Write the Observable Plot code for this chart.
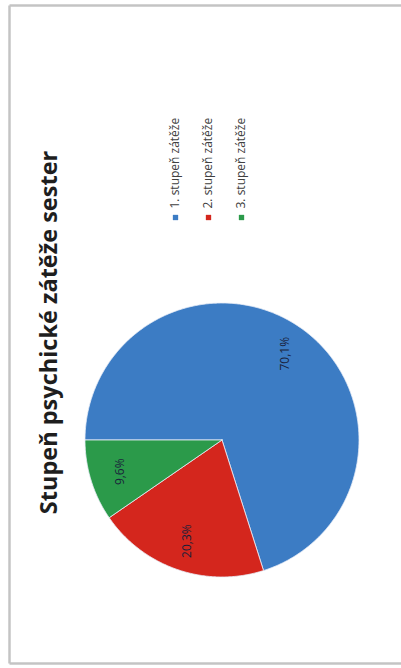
<!DOCTYPE html>
<html>
<head>
<meta charset="utf-8">
<script src="https://cdn.jsdelivr.net/npm/d3@7"></script>
<script src="https://cdn.jsdelivr.net/npm/@observablehq/plot@0.6"></script>
<style>
  html, body { margin: 0; padding: 0; background: #ffffff; }
  #chart svg { display: block; }
</style>
</head>
<body>
<div id="chart"></div>
<script>
// ---- data ----
const title = "Stupeň psychické zátěže sester";
const categories = ["1. stupeň zátěže", "2. stupeň zátěže", "3. stupeň zátěže"];
const shares = [70.1, 20.3, 9.6];
const shareLabels = ["70,1%", "20,3%", "9,6%"];
const colors = ["#3c7cc4", "#d4261d", "#2b9a4a"];

// ---- layout (page is rotated 90° counter-clockwise) ----
const W = 401, H = 668;
const cx = 221.5, cy = 439.5, r = 137;

const arcs = d3.pie().sort(null)
  .startAngle(-Math.PI / 2).endAngle(3 * Math.PI / 2)(shares);

const pt = (a, k) => ({x: cx + k * Math.sin(a), y: cy - k * Math.cos(a)});

const slices = [];
arcs.forEach((arc, i) => {
  const cat = categories[i];
  slices.push({cat, ...pt(0, 0)});
  const n = Math.max(2, Math.ceil((arc.endAngle - arc.startAngle) / 0.01));
  for (let j = 0; j <= n; j++) {
    const a = arc.startAngle + (arc.endAngle - arc.startAngle) * j / n;
    slices.push({cat, ...pt(a, r)});
  }
  slices.push({cat, ...pt(0, 0)});
});

const labelPts = arcs.map((arc, i) => ({
  label: shareLabels[i],
  ...pt((arc.startAngle + arc.endAngle) / 2, r * 0.78)
}));

const legendItems = categories.map((cat, i) => ({cat, x: 175 + i * 33, y: 217}));

const frameLines = [
  {x1: 9, y1: 5, x2: 9, y2: 663},
  {x1: 9, y1: 5, x2: 401, y2: 5},
  {x1: 9, y1: 663, x2: 401, y2: 663}
];

const chart = Plot.plot({
  width: W,
  height: H,
  margin: 0,
  style: {background: "#ffffff", fontFamily: "'Open Sans', sans-serif"},
  x: {type: "linear", domain: [0, W], range: [0, W], axis: null},
  y: {type: "linear", domain: [0, H], range: [0, H], axis: null},
  color: {type: "ordinal", domain: categories, range: colors},
  marks: [
    Plot.link(frameLines, {x1: "x1", y1: "y1", x2: "x2", y2: "y2", stroke: "#c4c4c4", strokeWidth: 2.5}),
    Plot.text([title], {
      frameAnchor: "top-left", dx: 40, dy: 332, text: d => d, rotate: -90,
      fontSize: 23.5, fontWeight: "bold", fill: "#1e1e1e", textAnchor: "middle"
    }),
    Plot.line(slices, {x: "x", y: "y", z: "cat", fill: "cat", stroke: "#e8eef8", strokeWidth: 1, strokeOpacity: 0.8, curve: "linear"}),
    Plot.text(labelPts, {x: "x", y: "y", text: "label", rotate: -90, fontSize: 12, fill: "#1a1f3a", textAnchor: "middle"}),
    Plot.dot(legendItems, {x: "x", y: "y", symbol: "square", r: 3, fill: "cat", stroke: "none"}),
    Plot.text(legendItems, {x: "x", y: d => d.y - 9, text: "cat", rotate: -90, textAnchor: "start", fontSize: 12, fill: "#404040"})
  ]
});

document.getElementById("chart").appendChild(chart);
</script>
</body>
</html>
